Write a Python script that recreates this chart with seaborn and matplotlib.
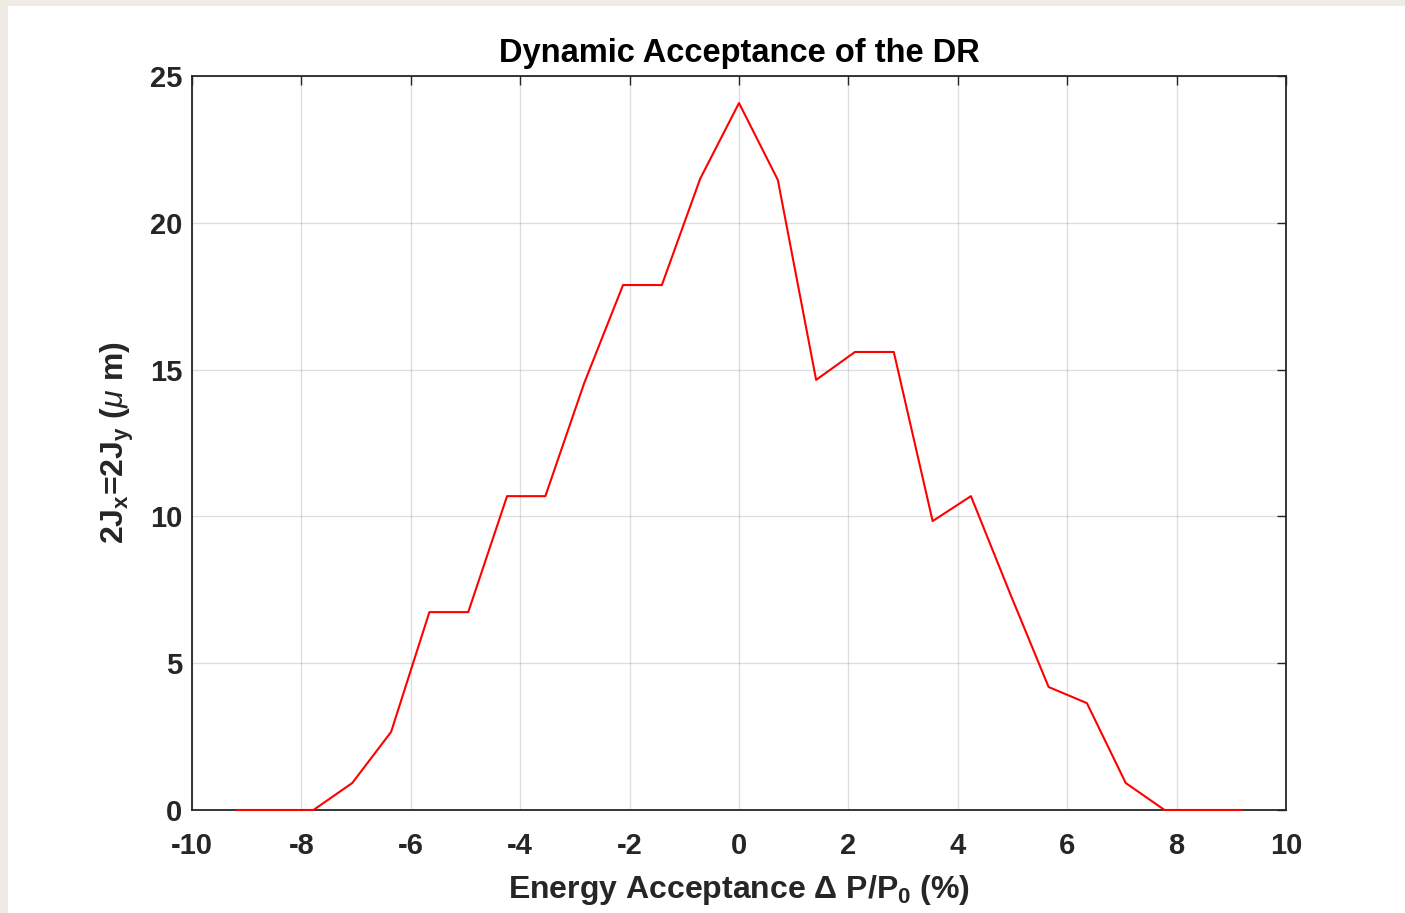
import matplotlib
matplotlib.use("Agg")
import matplotlib.pyplot as plt
import matplotlib.patches as mpatches
import seaborn as sns
import pandas as pd

# Energy deviation (%) and dynamic acceptance (um)
dp_percent = [-9.19, -8.49, -7.78, -7.07, -6.36, -5.66, -4.95, -4.24, -3.54,
              -2.83, -2.12, -1.41, -0.71, 0.0, 0.71, 1.41, 2.12, 2.83, 3.54,
              4.24, 4.95, 5.66, 6.36, 7.07, 7.78, 8.49, 9.19]
acceptance_um = [0.0, 0.0, 0.0, 0.92, 2.66, 6.74, 6.74, 10.69, 10.69,
                 14.54, 17.88, 17.88, 21.5, 24.08, 21.46, 14.65, 15.6, 15.6, 9.84,
                 10.69, 7.4, 4.19, 3.64, 0.92, 0.0, 0.0, 0.0]
x_ticks = [-10, -8, -6, -4, -2, 0, 2, 4, 6, 8, 10]
y_ticks = [0, 5, 10, 15, 20, 25]

title_text = "Dynamic Acceptance of the DR"
xlabel_text = r"Energy Acceptance $\Delta$ P/P$_{0}$ (%)"
ylabel_text = r"2J$_{\rm x}$=2J$_{\rm y}$ ($\mathit{\mu}$ m)"

sns.set_style("white")
plt.rcParams["font.family"] = ["Liberation Sans", "DejaVu Sans"]
plt.rcParams["axes.unicode_minus"] = False
plt.rcParams["mathtext.fontset"] = "custom"
plt.rcParams["mathtext.rm"] = "Liberation Sans:bold"
plt.rcParams["mathtext.bf"] = "Liberation Sans:bold"
plt.rcParams["mathtext.it"] = "Liberation Sans:italic"
plt.rcParams["mathtext.default"] = "rm"

W, H = 1405, 913
fig = plt.figure(figsize=(W / 100, H / 100), dpi=100)
fig.patch.set_facecolor("#efece6")
# white canvas inset from the top and left edge
fig.patches.append(mpatches.Rectangle((8 / W, 0), 1, (H - 6) / H,
                                      transform=fig.transFigure,
                                      facecolor="white", edgecolor="none",
                                      zorder=-10))

ax = fig.add_axes([192 / W, (H - 810) / H, (1286 - 192) / W, (810 - 76) / H])
ax.set_zorder(1)
ax.set_facecolor("white")

df = pd.DataFrame({"dp": dp_percent, "acc": acceptance_um})
sns.lineplot(data=df, x="dp", y="acc", color="red", linewidth=1.5, ax=ax,
             sort=False)
for ln in ax.get_lines():
    ln.set_zorder(6)
    ln.set_clip_on(False)

ax.set_xlim(-10, 10)
ax.set_ylim(0, 25)
ax.set_xticks(x_ticks)
ax.set_yticks(y_ticks)
ax.set_xticklabels([str(t) for t in x_ticks])
ax.set_yticklabels([str(t) for t in y_ticks])

ax.grid(True, color="#262626", alpha=0.15, linewidth=1.0)
ax.set_axisbelow(True)

for side in ["left", "right", "top", "bottom"]:
    sp = ax.spines[side]
    sp.set_visible(True)
    sp.set_color("#262626")
    sp.set_linewidth(1.3)
    sp.set_zorder(4)

ax.tick_params(axis="both", which="major", direction="in", length=6.5,
               width=1.0, color="#262626", top=True, right=True,
               labelsize=21, labelcolor="#262626")
ax.tick_params(axis="x", pad=16)
ax.tick_params(axis="y", pad=7)
for lab in ax.get_xticklabels() + ax.get_yticklabels():
    lab.set_fontweight("bold")

ax.set_title(title_text, fontsize=23.5, fontweight="bold", color="black", pad=10)
ax.set_xlabel(xlabel_text, fontsize=23, fontweight="bold", color="#262626",
              labelpad=9)
ax.set_ylabel(ylabel_text, fontsize=23, fontweight="bold", color="#262626",
              labelpad=10)

fig.savefig("out.png", dpi=100, facecolor=fig.get_facecolor())
